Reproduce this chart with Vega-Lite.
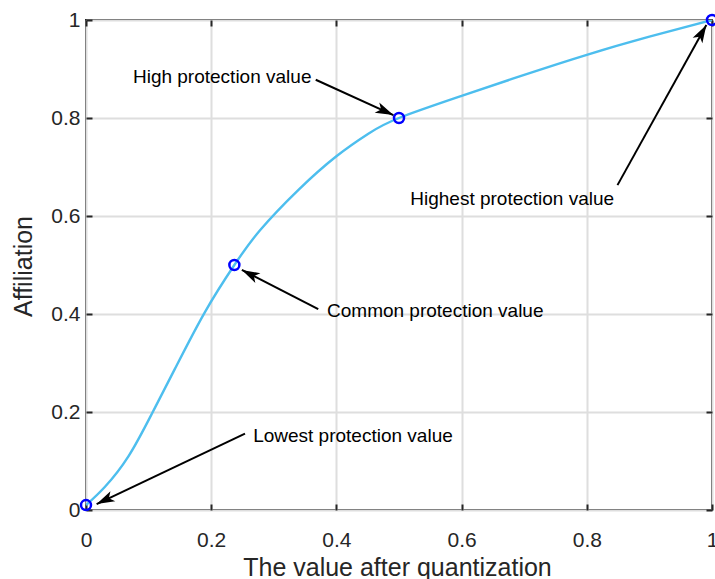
{
  "$schema": "https://vega.github.io/schema/vega-lite/v6.json",
  "width": 626,
  "height": 490,
  "autosize": {"type": "none"},
  "padding": {"left": 86, "top": 20, "right": 3, "bottom": 69},
  "background": "white",
  "config": {
    "view": {"stroke": "#262626", "strokeWidth": 2},
    "font": "Liberation Sans",
    "axis": {
      "labelFont": "Liberation Sans",
      "titleFont": "Liberation Sans",
      "labelFontSize": 21,
      "titleFontSize": 25,
      "titleFontWeight": "normal",
      "labelColor": "#262626",
      "titleColor": "#262626",
      "gridColor": "#dedede",
      "gridWidth": 2,
      "tickColor": "#262626",
      "tickWidth": 2,
      "domain": false
    }
  },
  "datasets": {
    "curve": [
      {"x": 0, "y": 0.01},
      {"x": 0.03, "y": 0.047},
      {"x": 0.068, "y": 0.11},
      {"x": 0.105, "y": 0.196},
      {"x": 0.142, "y": 0.288},
      {"x": 0.19, "y": 0.404},
      {"x": 0.237, "y": 0.5},
      {"x": 0.278, "y": 0.571},
      {"x": 0.339, "y": 0.653},
      {"x": 0.4, "y": 0.722},
      {"x": 0.451, "y": 0.768},
      {"x": 0.5, "y": 0.8},
      {"x": 0.6, "y": 0.845},
      {"x": 0.7, "y": 0.888},
      {"x": 0.8, "y": 0.929},
      {"x": 0.9, "y": 0.966},
      {"x": 1.0, "y": 1.0}
    ],
    "keypoints": [
      {"x": 0, "y": 0.01},
      {"x": 0.237, "y": 0.5},
      {"x": 0.5, "y": 0.8},
      {"x": 1.0, "y": 1.0}
    ],
    "arrows": [
      {"id": "high", "x1": 0.367, "y1": 0.878, "x2": 0.491, "y2": 0.806},
      {"id": "highest", "x1": 0.849, "y1": 0.663, "x2": 0.991, "y2": 0.99},
      {"id": "common", "x1": 0.371, "y1": 0.41, "x2": 0.249, "y2": 0.49},
      {"id": "lowest", "x1": 0.254, "y1": 0.156, "x2": 0.017, "y2": 0.012}
    ],
    "labels": [
      {"x": 0.075, "y": 0.884, "text": "High protection value"},
      {"x": 0.518, "y": 0.635, "text": "Highest protection value"},
      {"x": 0.385, "y": 0.406, "text": "Common protection value"},
      {"x": 0.267, "y": 0.151, "text": "Lowest protection value"}
    ]
  },
  "resolve": {"axis": {"x": "independent", "y": "independent"}},
  "layer": [
    {
      "data": {"name": "curve"},
      "mark": {"type": "line", "color": "#4DBEEE", "strokeWidth": 2.4, "interpolate": "natural", "clip": true},
      "encoding": {
        "x": {
          "field": "x", "type": "quantitative",
          "scale": {"domain": [0, 1], "nice": false, "zero": false},
          "axis": {
            "orient": "bottom",
            "title": "The value after quantization",
            "values": [0, 0.2, 0.4, 0.6, 0.8, 1],
            "format": "~g",
            "tickSize": -6,
            "labelPadding": 25,
            "labelFlush": false,
            "titleX": 311,
            "titleY": 65,
            "titleBaseline": "alphabetic"
          }
        },
        "y": {
          "field": "y", "type": "quantitative",
          "scale": {"domain": [0, 1], "nice": false, "zero": false},
          "axis": {
            "orient": "left",
            "title": "Affiliation",
            "values": [0, 0.2, 0.4, 0.6, 0.8, 1],
            "format": "~g",
            "tickSize": -6,
            "labelPadding": 12,
            "labelFlush": false,
            "titleX": -63,
            "titleY": 246,
            "titleBaseline": "middle"
          }
        }
      }
    },
    {
      "data": {"name": "curve"},
      "mark": {"type": "point", "opacity": 0},
      "encoding": {
        "x": {
          "field": "x", "type": "quantitative",
          "axis": {"orient": "top", "values": [0, 0.2, 0.4, 0.6, 0.8, 1], "labels": false, "grid": false, "tickSize": -6, "title": null}
        },
        "y": {
          "field": "y", "type": "quantitative",
          "axis": {"orient": "right", "values": [0, 0.2, 0.4, 0.6, 0.8, 1], "labels": false, "grid": false, "tickSize": -6, "title": null}
        }
      }
    },
    {
      "data": {"name": "keypoints"},
      "mark": {"type": "point", "shape": "circle", "filled": false, "color": "#0000FF", "opacity": 1, "strokeWidth": 2.5, "size": 100, "clip": false},
      "encoding": {
        "x": {"field": "x", "type": "quantitative", "axis": null},
        "y": {"field": "y", "type": "quantitative", "axis": null}
      }
    },
    {
      "data": {"name": "arrows"},
      "mark": {"type": "rule", "color": "black", "strokeWidth": 2},
      "encoding": {
        "x": {"field": "x1", "type": "quantitative", "axis": null},
        "y": {"field": "y1", "type": "quantitative", "axis": null},
        "x2": {"field": "x2"},
        "y2": {"field": "y2"}
      }
    },
    {
      "data": {"name": "arrows"},
      "transform": [{"filter": "datum.id === 'high'"}],
      "mark": {"type": "point", "shape": "M0,0 L0.62,2 L0,1.5 L-0.62,2 Z", "filled": true, "color": "black", "opacity": 1, "size": 324, "angle": 114.4},
      "encoding": {
        "x": {"field": "x2", "type": "quantitative", "axis": null},
        "y": {"field": "y2", "type": "quantitative", "axis": null}
      }
    },
    {
      "data": {"name": "arrows"},
      "transform": [{"filter": "datum.id === 'highest'"}],
      "mark": {"type": "point", "shape": "M0,0 L0.62,2 L0,1.5 L-0.62,2 Z", "filled": true, "color": "black", "opacity": 1, "size": 324, "angle": 29.4},
      "encoding": {
        "x": {"field": "x2", "type": "quantitative", "axis": null},
        "y": {"field": "y2", "type": "quantitative", "axis": null}
      }
    },
    {
      "data": {"name": "arrows"},
      "transform": [{"filter": "datum.id === 'common'"}],
      "mark": {"type": "point", "shape": "M0,0 L0.62,2 L0,1.5 L-0.62,2 Z", "filled": true, "color": "black", "opacity": 1, "size": 324, "angle": 297.2},
      "encoding": {
        "x": {"field": "x2", "type": "quantitative", "axis": null},
        "y": {"field": "y2", "type": "quantitative", "axis": null}
      }
    },
    {
      "data": {"name": "arrows"},
      "transform": [{"filter": "datum.id === 'lowest'"}],
      "mark": {"type": "point", "shape": "M0,0 L0.62,2 L0,1.5 L-0.62,2 Z", "filled": true, "color": "black", "opacity": 1, "size": 324, "angle": 244.4},
      "encoding": {
        "x": {"field": "x2", "type": "quantitative", "axis": null},
        "y": {"field": "y2", "type": "quantitative", "axis": null}
      }
    },
    {
      "data": {"name": "labels"},
      "mark": {"type": "text", "align": "left", "baseline": "middle", "fontSize": 19, "font": "Liberation Sans", "color": "black"},
      "encoding": {
        "x": {"field": "x", "type": "quantitative", "axis": null},
        "y": {"field": "y", "type": "quantitative", "axis": null},
        "text": {"field": "text"}
      }
    }
  ]
}
